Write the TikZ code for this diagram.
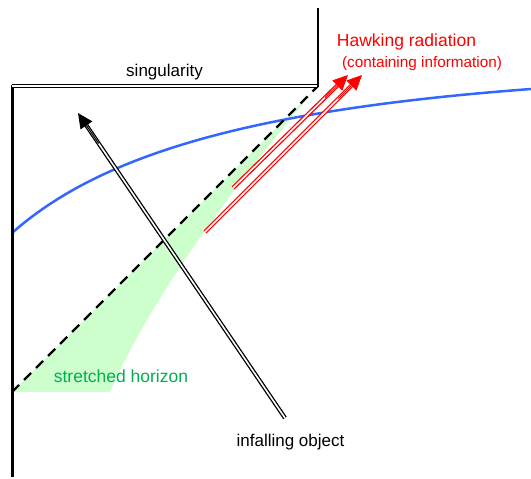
\documentclass[tikz,border=0pt]{standalone}
\usepackage{fontspec}
\setmainfont{Liberation Sans}
\usetikzlibrary{arrows.meta,calc}
\definecolor{hgreen}{RGB}{204,255,204}
\definecolor{tgreen}{RGB}{0,175,80}
\definecolor{cblue}{RGB}{51,102,255}
\definecolor{hred}{RGB}{255,0,0}
\begin{document}
\begin{tikzpicture}[x=1pt,y=-1pt,
  lbl/.style={font=\fontsize{17}{20}\selectfont, inner sep=0pt, anchor=base},
  dbl/.style={line width=1.3pt, double=white, double distance=1.6pt},
  tipa/.style={line width=1pt, -{Triangle[length=15pt,width=14pt]}}]
\useasboundingbox (0,0) rectangle (531,479);
% coordinates
\coordinate (bl) at (12,392);
\coordinate (corner) at (318,86);
\coordinate (top) at (318,8);
\coordinate (sl) at (12,85);
\coordinate (bottom) at (12,477);
\coordinate (sh) at (110,392);
\coordinate (b1) at (12,233);
\coordinate (b2) at (531,89);
\coordinate (fs) at (285,418);
\coordinate (fe) at (78,113);
\coordinate (r1s) at (233,188);
\coordinate (r1e) at (348,75);
\coordinate (r2s) at (205,232);
\coordinate (r2e) at (362,75);
% stretched horizon region
\fill[hgreen] (bl) -- (corner) .. controls (230,190) and (150,300) .. (sh) -- cycle;
% blue curve
\draw[cblue, line width=2.5pt] (b1) .. controls (100,155) and (250,110) .. (b2);
% horizon
\draw[line width=2.3pt, dash pattern=on 10pt off 7pt] (bl) -- (corner);
% walls
\draw[line width=3pt] (sl) -- (bottom);
\draw[dbl] (12,85.7) -- (318,85.7);
\draw[line width=2.5pt] (top) -- (318,87);
% infalling object
\draw[dbl, shorten >=11pt] (fs) -- (fe);
\draw[tipa] ($(fs)!0.9!(fe)$) -- (fe);
% Hawking radiation
\draw[dbl, draw=hred, shorten >=11pt] (r1s) -- (r1e);
\draw[tipa, hred] ($(r1s)!0.8!(r1e)$) -- (r1e);
\draw[dbl, draw=hred, shorten >=11pt] (r2s) -- (r2e);
\draw[tipa, hred] ($(r2s)!0.85!(r2e)$) -- (r2e);
% labels
\node[lbl] (sing) at (164.5,76) {singularity};
\node[lbl, text=hred, font=\fontsize{17.5}{20}\selectfont] (hawk) at (406.5,46.5) {Hawking radiation};
\node[lbl, text=hred, font=\fontsize{15.3}{18}\selectfont] (info) at (422,67) {(containing information)};
\node[lbl, text=tgreen, font=\fontsize{17.5}{20}\selectfont] (sth) at (121,382.5) {stretched horizon};
\node[lbl] (inf) at (290.5,446) {infalling object};
\end{tikzpicture}
\end{document}
